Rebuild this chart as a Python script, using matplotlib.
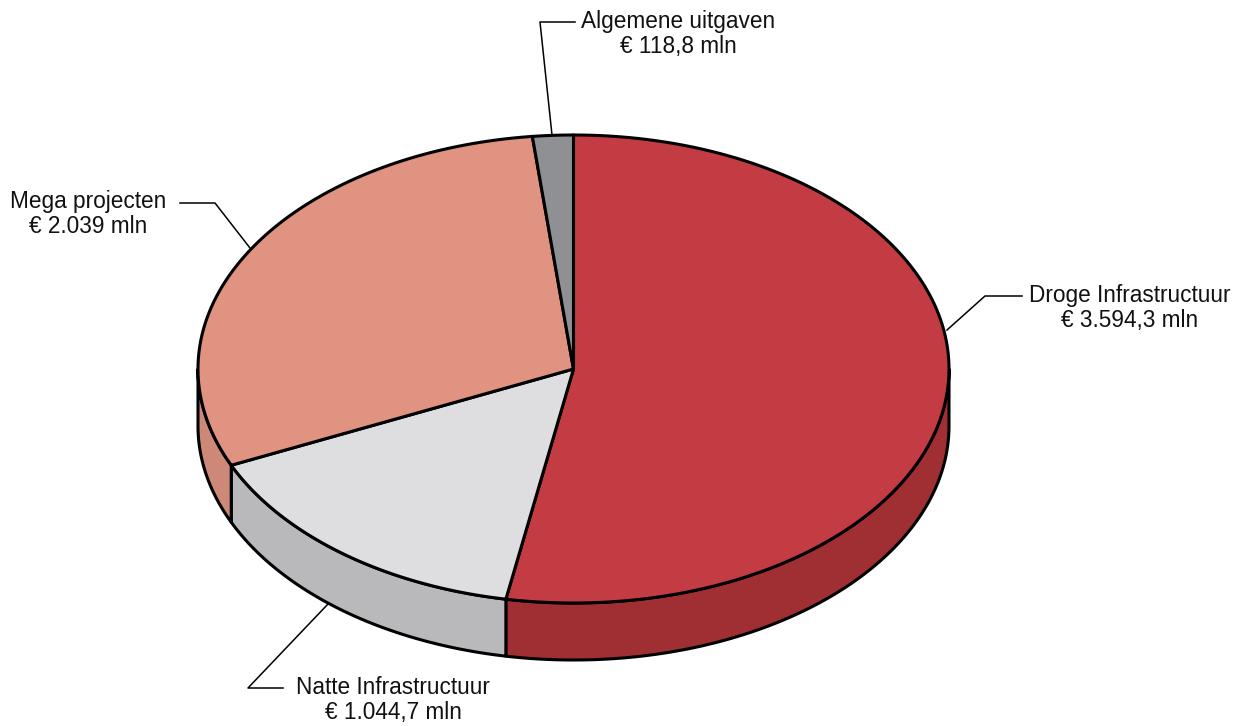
import numpy as np
import matplotlib.pyplot as plt
from matplotlib.patches import Polygon

# ── Data ──────────────────────────────────────────────────────────────────────
categories = ['Droge Infrastructuur', 'Natte Infrastructuur', 'Mega projecten', 'Algemene uitgaven']
values     = [3594.3, 1044.7, 2039.0, 118.8]
value_txt  = ['€ 3.594,3 mln', '€ 1.044,7 mln', '€ 2.039 mln', '€ 118,8 mln']

top_cols  = ['#C33C43', '#DEDEE0', '#E09381', '#8F9093']
side_cols = ['#A02F33', '#B9B9BB', '#CE8877', '#77787B']

# ── Layout (pixels) ───────────────────────────────────────────────────────────
CX, CY = 573.5, 369
RX, RY = 375.5, 234
DEPTH  = 57
EDGE_LW = 2.2

fig = plt.figure(figsize=(12.4, 7.26), dpi=100)
ax = fig.add_axes([0, 0, 1, 1])
ax.set_xlim(0, 1240)
ax.set_ylim(726, 0)
ax.axis('off')

def pt(t, dy=0):
    return CX + RX * np.cos(t), CY - RY * np.sin(t) + dy

fracs = np.array(values) / sum(values)
ends = np.pi / 2 - 2 * np.pi * np.cumsum(fracs)
starts = np.concatenate([[np.pi / 2], ends[:-1]])

# side walls (front half only: sin(t) < 0)
for s, e, col in zip(starts, ends, side_cols):
    lo, hi = e, s
    segs = []
    for k in range(-2, 2):
        a, b = max(lo, -np.pi + 2 * np.pi * k), min(hi, 2 * np.pi * k)
        if b > a:
            segs.append((a, b))
    for a, b in segs:
        t = np.linspace(a, b, 200)
        x, y = pt(t)
        xb, yb = pt(t[::-1], DEPTH)
        poly = np.column_stack([np.concatenate([x, xb]), np.concatenate([y, yb])])
        ax.add_patch(Polygon(poly, closed=True, facecolor=col, edgecolor='black',
                             linewidth=EDGE_LW, joinstyle='round', zorder=2))

# top faces
for s, e, col in zip(starts, ends, top_cols):
    t = np.linspace(s, e, 400)
    x, y = pt(t)
    poly = np.column_stack([np.concatenate([[CX], x]), np.concatenate([[CY], y])])
    ax.add_patch(Polygon(poly, closed=True, facecolor=col, edgecolor='black',
                         linewidth=EDGE_LW, joinstyle='round', zorder=3))

# ── Labels with leader lines ─────────────────────────────────────────────────
label_pos = [
    (1130, 308, [(947, 330), (985, 296), (1022, 296)]),
    (393, 700, [(328, 604), (248, 688), (283, 688)]),
    (88, 214, [(250, 248), (215, 203), (180, 203)]),
    (678, 34, [(552, 135), (540, 22), (575, 22)]),
]
for (tx, ty, path), cat, vt in zip(label_pos, categories, value_txt):
    px, py = zip(*path)
    ax.plot(px, py, color='black', linewidth=1.1, zorder=4)
    ax.text(tx, ty, f'{cat}\n{vt}', ha='center', va='center', fontsize=16.3,
            family='Liberation Sans', linespacing=1.1, color='#111111', zorder=5)

plt.savefig('out.png', dpi=100, facecolor='white')
